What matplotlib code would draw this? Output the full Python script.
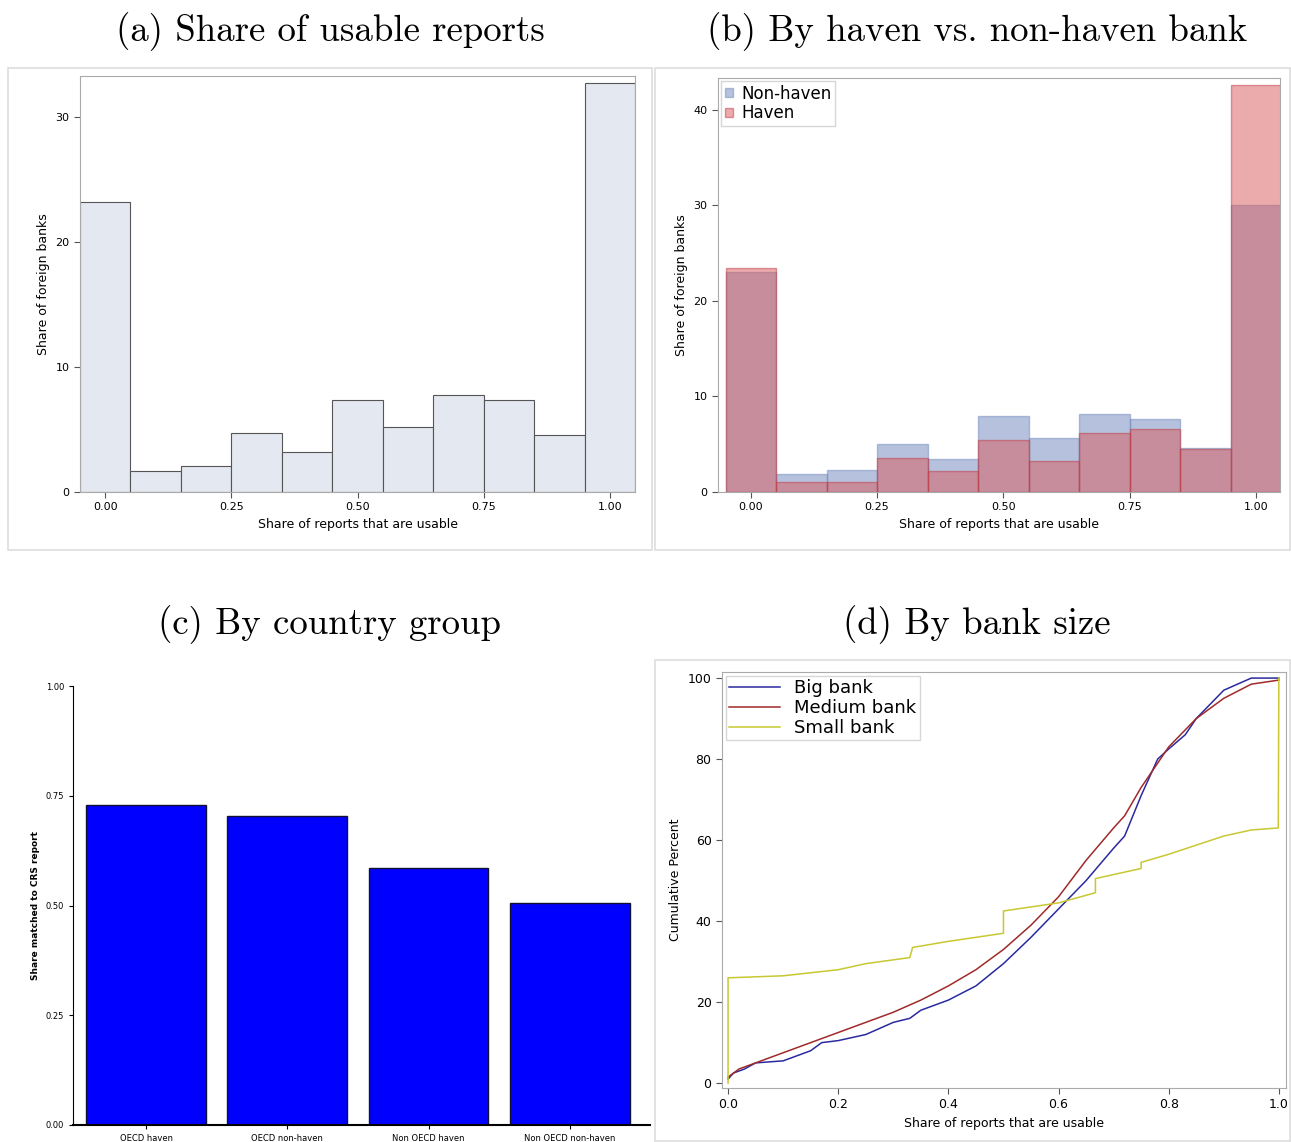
import numpy as np
import matplotlib
matplotlib.use("Agg")
import matplotlib.pyplot as plt
from matplotlib.patches import Rectangle

# (a) / (b) histogram data
bins = [0.0, 0.1, 0.2, 0.3, 0.4, 0.5, 0.6, 0.7, 0.8, 0.9, 1.0]
share_all = [23.2, 1.7, 2.1, 4.7, 3.2, 7.4, 5.2, 7.8, 7.4, 4.6, 32.7]
share_nonhaven = [23.0, 1.9, 2.3, 5.0, 3.4, 7.9, 5.7, 8.2, 7.6, 4.6, 30.0]
share_haven = [23.4, 1.0, 1.0, 3.6, 2.2, 5.4, 3.2, 6.2, 6.6, 4.5, 42.6]

# (c) country groups
groups = ["OECD haven", "OECD non-haven", "Non OECD haven", "Non OECD non-haven"]
matched = [0.73, 0.705, 0.585, 0.505]

# (d) cumulative distributions by bank size
big_x = [0, 0.01, 0.03, 0.05, 0.1, 0.15, 0.17, 0.2, 0.25, 0.3, 0.33, 0.35, 0.4, 0.45,
         0.5, 0.55, 0.6, 0.65, 0.7, 0.72, 0.75, 0.78, 0.8, 0.83, 0.85, 0.9, 0.95, 1.0]
big_y = [1, 2.5, 3.5, 5, 5.5, 8, 10, 10.5, 12, 15, 16, 18, 20.5, 24,
         29.5, 36, 43, 50, 58, 61, 71, 80, 82.5, 86, 90, 97, 100, 100]
med_x = [0, 0.02, 0.05, 0.1, 0.15, 0.2, 0.25, 0.3, 0.35, 0.4, 0.45, 0.5, 0.55, 0.6,
         0.65, 0.7, 0.72, 0.75, 0.8, 0.85, 0.9, 0.95, 1.0]
med_y = [1.5, 3.5, 5, 7.5, 10, 12.5, 15, 17.5, 20.5, 24, 28, 33, 39, 46,
         55, 63, 66, 73, 83, 90, 95, 98.5, 99.5]
small_x = [0, 0, 0.1, 0.2, 0.25, 0.33, 0.335, 0.4, 0.5, 0.5, 0.6, 0.667, 0.667,
           0.75, 0.75, 0.8, 0.9, 0.95, 0.999, 1.0]
small_y = [0, 26, 26.5, 28, 29.5, 31, 33.5, 35, 37, 42.5, 44.5, 47, 50.5,
           53, 54.5, 56.5, 61, 62.5, 63, 100]

W, H = 1291, 1142
fig = plt.figure(figsize=(W / 100, H / 100), dpi=100)

def ax_px(x0, y0, x1, y1):
    return fig.add_axes([x0 / W, 1 - y1 / H, (x1 - x0) / W, (y1 - y0) / H])

def panel_box(x0, y0, x1, y1):
    fig.patches.append(Rectangle((x0 / W, 1 - y1 / H), (x1 - x0) / W, (y1 - y0) / H,
                                 transform=fig.transFigure, fill=False,
                                 edgecolor="#dddddd", lw=1.2))

title_kw = dict(fontsize=26.5, family="cmr10", ha="center", va="center")
fig.text(330 / W, 1 - 32 / H, "(a) Share of usable reports", **title_kw)
fig.text(977 / W, 1 - 32 / H, "(b) By haven vs. non-haven bank", **title_kw)
fig.text(330 / W, 1 - 625 / H, "(c) By country group", **title_kw)
fig.text(977 / W, 1 - 625 / H, "(d) By bank size", **title_kw)

panel_box(8, 68, 652, 550)
panel_box(655, 68, 1290, 550)
panel_box(655, 660, 1290, 1141)

tick_kw = dict(labelsize=8, color="#555555", length=4)
spine_col = "#aaaaaa"

# (a)
ax = ax_px(80, 76, 635, 492)
ax.bar(bins, share_all, width=0.1, color="#e4e8f0", edgecolor="#555555", lw=0.8)
ax.set_xlim(-0.05, 1.05)
ax.set_ylim(0, 33.3)
ax.set_xticks([0, 0.25, 0.5, 0.75, 1.0], ["0.00", "0.25", "0.50", "0.75", "1.00"])
ax.set_yticks([0, 10, 20, 30])
ax.tick_params(**tick_kw)
ax.set_xlabel("Share of reports that are usable", fontsize=9)
ax.set_ylabel("Share of foreign banks", fontsize=9)
for s in ax.spines.values():
    s.set_color(spine_col)

# (b)
ax = ax_px(718, 78, 1280, 492)
ax.bar(bins, share_nonhaven, width=0.1, color="#6f86bd", alpha=0.5,
       edgecolor="#6f86bd", lw=1, label="Non-haven")
ax.bar(bins, share_haven, width=0.1, color="#d9595c", alpha=0.5,
       edgecolor="#c0393f", lw=1, label="Haven")
ax.set_xlim(-0.065, 1.048)
ax.set_ylim(0, 43.3)
ax.set_xticks([0, 0.25, 0.5, 0.75, 1.0], ["0.00", "0.25", "0.50", "0.75", "1.00"])
ax.set_yticks([0, 10, 20, 30, 40])
ax.tick_params(**tick_kw)
ax.set_xlabel("Share of reports that are usable", fontsize=9)
ax.set_ylabel("Share of foreign banks", fontsize=9)
for s in ax.spines.values():
    s.set_color(spine_col)
ax.legend(loc="upper left", fontsize=12, handlelength=0.5, handleheight=0.5,
          handletextpad=0.5, fancybox=False, borderpad=0.2, borderaxespad=0.2,
          labelspacing=0.1)

# (c)
ax = ax_px(73, 686, 650, 1125)
ax.bar(range(len(groups)), matched, width=0.85, color="#0000ff", edgecolor="#111133", lw=1)
ax.set_xlim(-0.52, 3.57)
ax.set_ylim(0, 1.0)
ax.set_xticks(range(len(groups)), groups)
ax.set_yticks([0, 0.25, 0.5, 0.75, 1.0], ["0.00", "0.25", "0.50", "0.75", "1.00"])
ax.tick_params(labelsize=6, length=3)
ax.set_ylabel("Share matched to CRS report", fontsize=6.5, fontweight="bold")
ax.spines["top"].set_visible(False)
ax.spines["right"].set_visible(False)
ax.spines["bottom"].set_linewidth(1.5)

# (d)
ax = ax_px(722, 672, 1286, 1088)
ax.plot(big_x, big_y, color="#2a2aa0", lw=1.1, label="Big bank")
ax.plot(med_x, med_y, color="#a02a2a", lw=1.1, label="Medium bank")
ax.plot(small_x, small_y, color="#c8c832", lw=1.1, label="Small bank")
ax.set_xlim(-0.011, 1.013)
ax.set_ylim(-1.2, 101.5)
ax.set_xticks([0, 0.2, 0.4, 0.6, 0.8, 1.0])
ax.set_yticks([0, 20, 40, 60, 80, 100])
ax.tick_params(labelsize=9, color="#555555", length=4)
ax.set_xlabel("Share of reports that are usable", fontsize=9)
ax.set_ylabel("Cumulative Percent", fontsize=9)
for s in ax.spines.values():
    s.set_color(spine_col)
ax.legend(loc="upper left", fontsize=13, handlelength=2.8, fancybox=False,
          borderpad=0.2, borderaxespad=0.2, labelspacing=0.1)

fig.savefig("out.png", dpi=100)
